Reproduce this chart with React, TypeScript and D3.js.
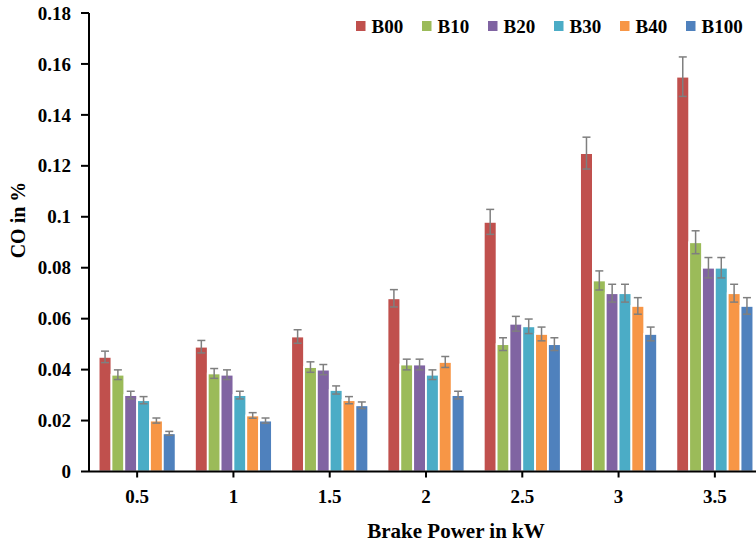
import React from 'react';
import * as d3 from 'd3';

const width = 756;
const height = 547;
const margin = { top: 13, left: 89, bottom: 76 };
const plotRight = 763; // the original chart runs past the right edge

const categories = ['0.5', '1', '1.5', '2', '2.5', '3', '3.5'];
const series = ['B00', 'B10', 'B20', 'B30', 'B40', 'B100'];
const colors = ['#C0504D', '#9BBB59', '#8064A2', '#4BACC6', '#F79646', '#4F81BD'];

const B00 = [0.045, 0.049, 0.053, 0.068, 0.098, 0.125, 0.155];
const B10 = [0.038, 0.0385, 0.041, 0.042, 0.05, 0.075, 0.09];
const B20 = [0.03, 0.038, 0.04, 0.042, 0.058, 0.07, 0.08];
const B30 = [0.028, 0.03, 0.032, 0.038, 0.057, 0.07, 0.08];
const B40 = [0.02, 0.022, 0.028, 0.043, 0.054, 0.065, 0.07];
const B100 = [0.015, 0.02, 0.026, 0.03, 0.05, 0.054, 0.065];
const values = [B00, B10, B20, B30, B40, B100];

// error bars are Excel's "percentage" kind
const errorPct = 0.05;
const yTicks = [0, 0.02, 0.04, 0.06, 0.08, 0.1, 0.12, 0.14, 0.16, 0.18];

const font = '"Liberation Serif", "Times New Roman", serif';

export default function App() {
  const yBottom = height - margin.bottom + 0.5;
  const x0 = d3
    .scaleBand()
    .domain(categories)
    .range([margin.left, plotRight])
    .paddingInner(0.2)
    .paddingOuter(0.1);
  const x1 = d3.scaleBand().domain(series).range([0, x0.bandwidth()]);
  const y = d3.scaleLinear().domain([0, 0.18]).range([yBottom, margin.top]);
  const center = (c) => x0(c) + x0.bandwidth() / 2;

  // bars with white outline like the excel default
  const bars = series.map((s, si) => (
    <g key={s} fill={colors[si]}>
      {categories.map((c, ci) => {
        const v = values[si][ci];
        return (
          <rect
            key={c}
            x={x0(c) + x1(s)}
            y={y(v)}
            width={x1.bandwidth()}
            height={yBottom - y(v)}
            stroke="#fff"
            strokeWidth={1.8}
          />
        );
      })}
    </g>
  ));

  const errors = series.map((s, si) => (
    <g key={s} stroke="#7F7F7F" strokeWidth={1.5}>
      {categories.map((c, ci) => {
        const v = values[si][ci];
        const cx = x0(c) + x1(s) + x1.bandwidth() / 2;
        const hi = y(v * (1 + errorPct));
        const lo = y(v * (1 - errorPct));
        return (
          <g key={c}>
            <line x1={cx} x2={cx} y1={hi} y2={lo} />
            <line x1={cx - 4} x2={cx + 4} y1={hi} y2={hi} />
            <line x1={cx - 4} x2={cx + 4} y1={lo} y2={lo} />
          </g>
        );
      })}
    </g>
  ));

  const yAxis = (
    <g>
      <line x1={margin.left} x2={margin.left} y1={margin.top} y2={yBottom} stroke="#000" strokeWidth={2} />
      {yTicks.map((t) => (
        <g key={t}>
          <line x1={margin.left - 8} x2={margin.left} y1={y(t)} y2={y(t)} stroke="#000" strokeWidth={2} />
          <text x={71} y={y(t)} dy="0.35em" textAnchor="end" fontSize={19} fontWeight="bold">
            {d3.format('~g')(t)}
          </text>
        </g>
      ))}
    </g>
  );

  const xAxis = (
    <g>
      <line x1={margin.left} x2={width} y1={yBottom} y2={yBottom} stroke="#000" strokeWidth={2} />
      {categories.map((c) => (
        <g key={c}>
          <line x1={center(c)} x2={center(c)} y1={yBottom} y2={yBottom + 6} stroke="#000" strokeWidth={2} />
          <text x={center(c)} y={503} textAnchor="middle" fontSize={19} fontWeight="bold">
            {c}
          </text>
        </g>
      ))}
    </g>
  );

  const legend = series.map((s, i) => {
    const lx = 356 + i * 66;
    return (
      <g key={s}>
        <rect x={lx} y={21} width={9.5} height={10} fill={colors[i]} />
        <text x={lx + 15.5} y={32.5} fontSize={19} fontWeight="bold">
          {s}
        </text>
      </g>
    );
  });

  return (
    <svg
      width={width}
      height={height}
      style={{ position: 'absolute', left: 0, top: 0, background: '#fff' }}
      fontFamily={font}
      fill="#000"
    >
      {bars}
      {errors}
      {yAxis}
      {xAxis}
      {legend}
      <text x={456} y={538} textAnchor="middle" fontSize={21} fontWeight="bold">
        Brake Power in kW
      </text>
      <text transform="translate(25,220) rotate(-90)" textAnchor="middle" fontSize={20} fontWeight="bold">
        CO in %
      </text>
    </svg>
  );
}
